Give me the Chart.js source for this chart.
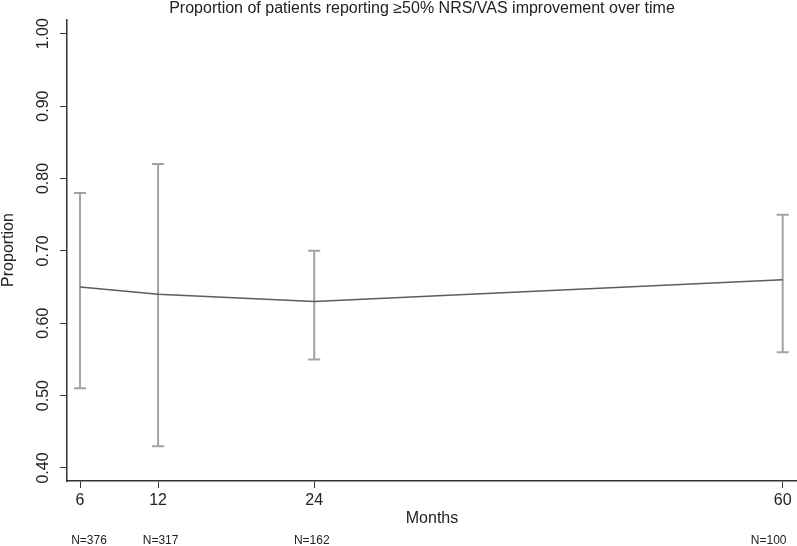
<!DOCTYPE html>
<html>
<head>
<meta charset="utf-8">
<script src="https://cdn.jsdelivr.net/npm/chart.js@4"></script>
<style>
  html, body { margin: 0; padding: 0; background: #fff; }
  #wrap { width: 797px; height: 546px; }
</style>
</head>
<body>
<div id="wrap"><canvas id="c" width="797" height="546"></canvas></div>
<script>
// data
const months = [6, 12, 24, 60];
const proportion = [0.65, 0.64, 0.63, 0.66];
const ciLow = [0.51, 0.43, 0.55, 0.56];
const ciHigh = [0.78, 0.82, 0.70, 0.75];
const nLabels = ['N=376', 'N=317', 'N=162', 'N=100'];
const yTicks = [0.4, 0.5, 0.6, 0.7, 0.8, 0.9, 1.0];

const FONT = '"Liberation Sans", Arial, sans-serif';
const TEXT = '#222';

// error bars + rotated y labels + N counts + title
const extras = {
  id: 'extras',
  beforeDatasetsDraw(chart) {
    const { ctx, scales: { x, y } } = chart;
    ctx.save();
    ctx.strokeStyle = '#a3a3a3';
    ctx.lineWidth = 2;
    months.forEach((m, i) => {
      const px = x.getPixelForValue(m);
      const lo = y.getPixelForValue(ciLow[i]);
      const hi = y.getPixelForValue(ciHigh[i]);
      ctx.beginPath();
      ctx.moveTo(px, lo); ctx.lineTo(px, hi);
      ctx.moveTo(px - 6, lo); ctx.lineTo(px + 6, lo);
      ctx.moveTo(px - 6, hi); ctx.lineTo(px + 6, hi);
      ctx.stroke();
    });
    ctx.restore();
  },
  afterDraw(chart) {
    const { ctx, scales: { x, y } } = chart;
    ctx.save();
    ctx.fillStyle = TEXT;
    ctx.textAlign = 'center';
    ctx.textBaseline = 'middle';
    // y tick labels, rotated like the original
    ctx.font = '16px ' + FONT;
    yTicks.forEach(v => {
      ctx.save();
      ctx.translate(44, y.getPixelForValue(v));
      ctx.rotate(-Math.PI / 2);
      ctx.fillText(v.toFixed(2), 0, 0);
      ctx.restore();
    });
    // y title
    ctx.save();
    ctx.font = '16px ' + FONT;
    ctx.translate(9, 250);
    ctx.rotate(-Math.PI / 2);
    ctx.fillText('Proportion', 0, 0);
    ctx.restore();
    // x title
    ctx.font = '16px ' + FONT;
    ctx.fillText('Months', 432, 519);
    // N counts
    ctx.font = '12px ' + FONT;
    const nOffset = [9, 2.5, -2.5, -14];
    months.forEach((m, i) => {
      ctx.fillText(nLabels[i], x.getPixelForValue(m) + nOffset[i], 541);
    });
    // title
    ctx.font = '16px ' + FONT;
    ctx.fillText('Proportion of patients reporting \u226550% NRS/VAS improvement over time', 422, 9);
    ctx.restore();
  }
};

new Chart(document.getElementById('c'), {
  type: 'line',
  data: {
    datasets: [{
      data: months.map((m, i) => ({ x: m, y: proportion[i] })),
      borderColor: '#5c5c5c',
      borderWidth: 1.6,
      pointRadius: 0,
      tension: 0,
      fill: false
    }]
  },
  options: {
    responsive: false,
    animation: false,
    layout: { padding: { top: 20, right: 0, left: 0, bottom: 0 } },
    plugins: { legend: { display: false }, title: { display: false }, tooltip: { enabled: false } },
    scales: {
      x: {
        type: 'linear',
        min: 5, max: 61.1,
        afterBuildTicks: s => { s.ticks = months.map(v => ({ value: v })); },
        afterFit: s => { s.height = 65; },
        border: { display: true, color: '#333', width: 1.5 },
        grid: { drawOnChartArea: false, drawTicks: true, tickLength: 7, color: '#333', lineWidth: 1 },
        ticks: { color: TEXT, font: { family: FONT, size: 16 }, padding: 3, maxRotation: 0, autoSkip: false }
      },
      y: {
        min: 0.382, max: 1.019,
        afterBuildTicks: s => { s.ticks = yTicks.map(v => ({ value: v })); },
        afterFit: s => { s.width = 67; },
        border: { display: true, color: '#333', width: 1.5 },
        grid: { drawOnChartArea: false, drawTicks: true, tickLength: 7, color: '#333', lineWidth: 1 },
        ticks: { display: false }
      }
    }
  },
  plugins: [extras]
});
</script>
</body>
</html>
